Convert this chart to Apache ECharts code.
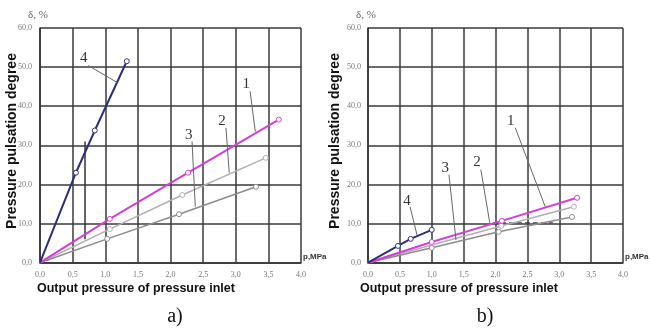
<!DOCTYPE html>
<html><head><meta charset="utf-8">
<script src="https://cdn.jsdelivr.net/npm/echarts@6/dist/echarts.min.js"></script>
<style>html,body{margin:0;padding:0;background:#fff}#c{width:650px;height:331px}</style>
</head><body><div id="c"></div>
<script>
// ---- data ----
const xTickLabels = ['0,0','0,5','1,0','1,5','2,0','2,5','3,0','3,5','4,0'];
const yTickLabels = ['0,0','10,0','20,0','30,0','40,0','50,0','60,0'];
const curveNames = ['1','2','3','4'];
// chart a)
const a1 = [[0,0],[1.07,11.2],[2.27,23.0],[3.66,36.6]];
const a2 = [[0,0],[1.07,8.6],[2.18,17.3],[3.46,26.8]];
const a3 = [[0,0],[1.03,6.1],[2.13,12.4],[3.31,19.4]];
const a4 = [[0,0],[0.55,23.0],[0.84,33.8],[1.33,51.5]];
// chart b)
const b1 = [[0,0],[1.0,5.3],[2.1,10.7],[3.28,16.6]];
const b2 = [[0,0],[1.0,4.5],[2.09,9.4],[3.23,14.3]];
const b3 = [[0,0],[1.0,3.8],[2.05,7.9],[3.2,11.7]];
const b4 = [[0,0],[0.47,4.3],[0.67,6.1],[1.0,8.4]];

const colors = {'1':'#d43fd4','2':'#b0b0b0','3':'#8c8c8c','4':'#2e2e78'};
const widths = {'1':2,'2':1.5,'3':1.5,'4':2};

function fmt(list){ return function(v){ const i = Math.round(v/ (list.length===9?0.5:10)); return list[i]||''; }; }

function xAxis(gi){
  return {type:'value',gridIndex:gi,min:0,max:4,interval:0.5,
    axisLine:{show:true,lineStyle:{color:'#333',width:1.5}},
    axisTick:{show:false},
    axisLabel:{formatter:fmt(xTickLabels),fontFamily:'Liberation Serif',fontSize:8,color:'#777',margin:8},
    splitLine:{show:true,lineStyle:{color:'#3a3a3a',width:1.5}}};
}
function yAxis(gi){
  return {type:'value',gridIndex:gi,min:0,max:60,interval:10,
    axisLine:{show:true,lineStyle:{color:'#333',width:1.5}},
    axisTick:{show:false},
    axisLabel:{formatter:fmt(yTickLabels),fontFamily:'Liberation Serif',fontSize:8,color:'#777',margin:gi===0?8:7},
    splitLine:{show:true,lineStyle:{color:'#3a3a3a',width:1.5}}};
}
function mkSeries(data,name,gi){
  return {type:'line',name:name,xAxisIndex:gi,yAxisIndex:gi,
    data:data.map((p,i)=> i===0?{value:p,symbol:'none'}:{value:p}),
    symbol:'circle',symbolSize:5,showSymbol:true,
    lineStyle:{color:colors[name],width:widths[name]},
    itemStyle:{color:'#fff',borderColor:colors[name],borderWidth:1},
    z:5,animation:false};
}

const chart = echarts.init(document.getElementById('c'),null,{renderer:'canvas'});
const series = [
  mkSeries(a2,'2',0),mkSeries(a3,'3',0),mkSeries(a1,'1',0),mkSeries(a4,'4',0),
  mkSeries(b2,'2',1),mkSeries(b3,'3',1),mkSeries(b1,'1',1),mkSeries(b4,'4',1)
];
// dropline in chart a), dashed segment in chart b)
series.push({type:'line',xAxisIndex:0,yAxisIndex:0,data:[[0.69,6],[0.69,31]],symbol:'none',
  lineStyle:{color:'#333',width:1.5},animation:false,z:3});
series.push({type:'line',xAxisIndex:1,yAxisIndex:1,data:[[1.96,10.2],[2.9,10.2]],symbol:'none',
  lineStyle:{color:'#333',width:1,type:[5,3]},animation:false,z:3});

chart.setOption({
  animation:false,
  grid:[{left:40,top:28,width:261,height:234.7},{left:368,top:28,width:255,height:234.7}],
  xAxis:[xAxis(0),xAxis(1)],
  yAxis:[yAxis(0),yAxis(1)],
  series:series
});

// annotations (label position, leader start, leader end) in data coordinates
const notes = [
  {g:0,t:'4',at:[0.67,52.2],from:[0.74,50.4],to:[1.18,46.1]},
  {g:0,t:'3',at:[2.28,32.7],from:[2.33,31.0],to:[2.38,14.3]},
  {g:0,t:'2',at:[2.79,36.3],from:[2.85,34.5],to:[2.90,23.0]},
  {g:0,t:'1',at:[3.16,45.6],from:[3.22,43.8],to:[3.30,33.5]},
  {g:1,t:'4',at:[0.61,15.8],from:[0.66,14.3],to:[0.77,7.0]},
  {g:1,t:'3',at:[1.21,24.3],from:[1.27,22.5],to:[1.38,5.8]},
  {g:1,t:'2',at:[1.71,25.8],from:[1.77,23.8],to:[1.91,10.2]},
  {g:1,t:'1',at:[2.24,36.1],from:[2.31,34.5],to:[2.78,14.3]}
];
const gr = [];
notes.forEach(n=>{
  const p = chart.convertToPixel({gridIndex:n.g},n.at);
  const f = chart.convertToPixel({gridIndex:n.g},n.from);
  const t = chart.convertToPixel({gridIndex:n.g},n.to);
  gr.push({type:'line',shape:{x1:f[0],y1:f[1],x2:t[0],y2:t[1]},style:{stroke:'#666',lineWidth:1},z:10});
  gr.push({type:'text',x:p[0],y:p[1],style:{text:n.t,font:'15px "Liberation Serif"',fill:'#333',align:'center',verticalAlign:'middle'},z:10});
});
const panels = [
  {l:40,r:301,yt:12,ox:37,cap:'a)',cx:175},
  {l:368,r:623,yt:335,ox:360,cap:'b)',cx:485}
];
panels.forEach(P=>{
  gr.push({type:'text',x:P.l-12,y:15,style:{text:'δ, %',font:'11px "Liberation Serif"',fill:'#666',verticalAlign:'middle'}});
  gr.push({type:'text',x:P.r+2,y:257,style:{text:'p,MPa',font:'bold 8px "Liberation Sans"',fill:'#333',verticalAlign:'middle'}});
  gr.push({type:'text',x:P.ox,y:289,style:{text:'Output pressure of pressure inlet',font:'bold 12.5px "Liberation Sans"',fill:'#111',verticalAlign:'middle'}});
  gr.push({type:'text',x:P.yt,y:141,rotation:Math.PI/2,style:{text:'Pressure pulsation degree',font:'bold 14px "Liberation Sans"',fill:'#111',align:'center',verticalAlign:'middle'}});
  gr.push({type:'text',x:P.cx,y:317,style:{text:P.cap,font:'20px "Liberation Serif"',fill:'#111',align:'center',verticalAlign:'middle'}});
});
chart.setOption({graphic:gr});
</script></body></html>
